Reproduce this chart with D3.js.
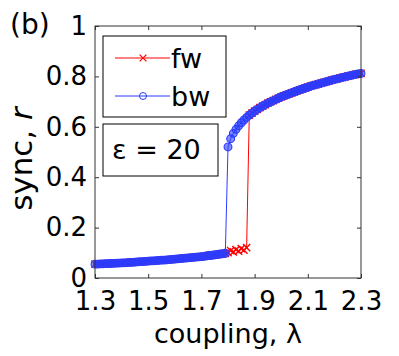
<!DOCTYPE html>
<html>
<head>
<meta charset="utf-8">
<script src="https://cdn.jsdelivr.net/npm/d3@7"></script>
<style>
  body { margin: 0; background: #fff; }
  text { font-family: "DejaVu Sans", sans-serif; fill: #000; }
</style>
</head>
<body>
<svg id="chart" width="399" height="356"></svg>
<script>
// coupling values (shared by both sweeps)
var lambda = [
  1.30, 1.31, 1.32, 1.33, 1.34, 1.35, 1.36, 1.37, 1.38, 1.39,
  1.40, 1.41, 1.42, 1.43, 1.44, 1.45, 1.46, 1.47, 1.48, 1.49,
  1.50, 1.51, 1.52, 1.53, 1.54, 1.55, 1.56, 1.57, 1.58, 1.59,
  1.60, 1.61, 1.62, 1.63, 1.64, 1.65, 1.66, 1.67, 1.68, 1.69,
  1.70, 1.71, 1.72, 1.73, 1.74, 1.75, 1.76, 1.77, 1.78, 1.79,
  1.80, 1.81, 1.82, 1.83, 1.84, 1.85, 1.86, 1.87, 1.88, 1.89,
  1.90, 1.91, 1.92, 1.93, 1.94, 1.95, 1.96, 1.97, 1.98, 1.99,
  2.00, 2.01, 2.02, 2.03, 2.04, 2.05, 2.06, 2.07, 2.08, 2.09,
  2.10, 2.11, 2.12, 2.13, 2.14, 2.15, 2.16, 2.17, 2.18, 2.19,
  2.20, 2.21, 2.22, 2.23, 2.24, 2.25, 2.26, 2.27, 2.28, 2.29,
  2.30
];

// forward sweep (fw)
var fwR = [
  0.055, 0.055, 0.056, 0.056, 0.057, 0.057, 0.058, 0.058, 0.059, 0.059,
  0.060, 0.060, 0.061, 0.062, 0.062, 0.063, 0.064, 0.065, 0.065, 0.066,
  0.067, 0.068, 0.068, 0.069, 0.070, 0.071, 0.071, 0.072, 0.073, 0.074,
  0.075, 0.076, 0.077, 0.078, 0.079, 0.080, 0.081, 0.082, 0.083, 0.084,
  0.085, 0.086, 0.088, 0.089, 0.090, 0.092, 0.093, 0.095, 0.096, 0.098,
  0.101, 0.109, 0.104, 0.113, 0.107, 0.117, 0.111, 0.121, 0.646, 0.654,
  0.662, 0.669, 0.676, 0.682, 0.688, 0.694, 0.699, 0.704, 0.709, 0.714,
  0.719, 0.723, 0.727, 0.731, 0.735, 0.739, 0.743, 0.747, 0.750, 0.754,
  0.757, 0.761, 0.764, 0.767, 0.770, 0.773, 0.776, 0.779, 0.782, 0.785,
  0.788, 0.790, 0.793, 0.796, 0.798, 0.801, 0.803, 0.806, 0.808, 0.810,
  0.812
];

// backward sweep (bw)
var bwR = [
  0.055, 0.055, 0.056, 0.056, 0.057, 0.057, 0.058, 0.058, 0.059, 0.059,
  0.060, 0.060, 0.061, 0.062, 0.062, 0.063, 0.064, 0.065, 0.065, 0.066,
  0.067, 0.068, 0.068, 0.069, 0.070, 0.071, 0.071, 0.072, 0.073, 0.074,
  0.075, 0.076, 0.077, 0.078, 0.079, 0.080, 0.081, 0.082, 0.083, 0.084,
  0.085, 0.086, 0.088, 0.089, 0.090, 0.092, 0.093, 0.095, 0.096, 0.098,
  0.520, 0.553, 0.574, 0.590, 0.604, 0.616, 0.627, 0.637, 0.646, 0.654,
  0.662, 0.669, 0.676, 0.682, 0.688, 0.694, 0.699, 0.704, 0.709, 0.714,
  0.719, 0.723, 0.727, 0.731, 0.735, 0.739, 0.743, 0.747, 0.750, 0.754,
  0.757, 0.761, 0.764, 0.767, 0.770, 0.773, 0.776, 0.779, 0.782, 0.785,
  0.788, 0.790, 0.793, 0.796, 0.798, 0.801, 0.803, 0.806, 0.808, 0.810,
  0.812
];

var xTicks = [1.3, 1.5, 1.7, 1.9, 2.1, 2.3];
var yTicks = [0, 0.2, 0.4, 0.6, 0.8, 1];
var legendLabels = ["fw", "bw"];

var svg = d3.select("#chart");
var pLeft = 95, pRight = 361, pTop = 26, pBottom = 278;
var fs = 26;

var x = d3.scaleLinear().domain([1.3, 2.3]).range([pLeft, pRight]);
var y = d3.scaleLinear().domain([0, 1]).range([pBottom, pTop]);

var red = "#ff0000", blue = "#2a3cff";

var fw = lambda.map(function(l, i) { return [l, fwR[i]]; });
var bw = lambda.map(function(l, i) { return [l, bwR[i]]; });

var line = d3.line()
    .x(function(d) { return x(d[0]); })
    .y(function(d) { return y(d[1]); });

// fw series
svg.append("path").datum(fw)
    .attr("d", line)
    .attr("fill", "none")
    .attr("stroke", red)
    .attr("stroke-width", 1);

var cross = d3.symbol().type(d3.symbolX).size(36);
svg.append("g").selectAll("path")
    .data(fw)
    .enter().append("path")
    .attr("d", cross)
    .attr("transform", function(d) { return "translate(" + x(d[0]) + "," + y(d[1]) + ")"; })
    .attr("fill", "none")
    .attr("stroke", red)
    .attr("stroke-width", 1.4);

// bw series
svg.append("path").datum(bw)
    .attr("d", line)
    .attr("fill", "none")
    .attr("stroke", blue)
    .attr("stroke-width", 1);

svg.append("g").selectAll("circle")
    .data(bw)
    .enter().append("circle")
    .attr("cx", function(d) { return x(d[0]); })
    .attr("cy", function(d) { return y(d[1]); })
    .attr("r", 3.9)
    .attr("fill", blue)
    .attr("fill-opacity", 0.6)
    .attr("stroke", blue)
    .attr("stroke-width", 1.1);

// axes box
var axisColor = "#333";
svg.append("rect")
    .attr("x", pLeft).attr("y", pTop)
    .attr("width", pRight - pLeft).attr("height", pBottom - pTop)
    .attr("fill", "none").attr("stroke", axisColor).attr("stroke-width", 1);

function styleAxis(g) {
    g.select(".domain").remove();
    g.selectAll(".tick line").attr("stroke", axisColor);
    g.selectAll(".tick text")
        .attr("fill", "#000")
        .style("font-size", fs + "px")
        .style("font-family", "'DejaVu Sans', sans-serif");
}

svg.append("g")
    .attr("transform", "translate(0," + pBottom + ")")
    .call(d3.axisBottom(x).tickValues(xTicks).tickSizeInner(-4).tickSizeOuter(0)
        .tickPadding(14).tickFormat(d3.format(".1f")))
    .call(styleAxis);

svg.append("g")
    .attr("transform", "translate(0," + pTop + ")")
    .call(d3.axisTop(x).tickValues(xTicks).tickSizeInner(-4).tickSizeOuter(0).tickFormat(""))
    .call(styleAxis);

svg.append("g")
    .attr("transform", "translate(" + pLeft + ",0)")
    .call(d3.axisLeft(y).tickValues(yTicks).tickSizeInner(-4).tickSizeOuter(0)
        .tickPadding(8).tickFormat(function(d) { return d; }))
    .call(styleAxis);

svg.append("g")
    .attr("transform", "translate(" + pRight + ",0)")
    .call(d3.axisRight(y).tickValues(yTicks).tickSizeInner(-4).tickSizeOuter(0).tickFormat(""))
    .call(styleAxis);

// axis labels
svg.append("text")
    .attr("x", 228)
    .attr("y", 343)
    .attr("text-anchor", "middle")
    .style("font-size", "27px")
    .text("coupling, \u03bb");

var yl = svg.append("text")
    .attr("transform", "translate(32,159) rotate(-90)")
    .attr("text-anchor", "middle")
    .style("font-size", "31px");
yl.append("tspan").text("sync, ");
yl.append("tspan").style("font-style", "italic").text("r");

svg.append("text")
    .attr("x", 10).attr("y", 34)
    .style("font-size", "28px")
    .text("(b)");

// legend
var leg = svg.append("g");
leg.append("rect")
    .attr("x", 103).attr("y", 36).attr("width", 123).attr("height", 81)
    .attr("fill", "#fff").attr("stroke", "#000").attr("stroke-width", 1);

var legColors = [red, blue];
legendLabels.forEach(function(lab, i) {
    var ly = 58 + i * 38;
    leg.append("line")
        .attr("x1", 115).attr("x2", 170).attr("y1", ly).attr("y2", ly)
        .attr("stroke", legColors[i]).attr("stroke-width", 1);
    if (i === 0) {
        leg.append("path").attr("d", d3.symbol().type(d3.symbolX).size(32))
            .attr("transform", "translate(143," + ly + ")")
            .attr("fill", "none").attr("stroke", red).attr("stroke-width", 1.2);
    } else {
        leg.append("circle").attr("cx", 143).attr("cy", ly).attr("r", 3.5)
            .attr("fill", "none").attr("stroke", blue);
    }
    leg.append("text")
        .attr("x", 171).attr("y", ly + 10)
        .style("font-size", "27px")
        .text(lab);
});

// parameter box
svg.append("rect")
    .attr("x", 103).attr("y", 124).attr("width", 115).attr("height", 52)
    .attr("fill", "#fff").attr("stroke", "#000").attr("stroke-width", 1);
svg.append("text")
    .attr("x", 112).attr("y", 159)
    .style("font-size", "27px")
    .text("\u03b5 = 20");
</script>
</body>
</html>
